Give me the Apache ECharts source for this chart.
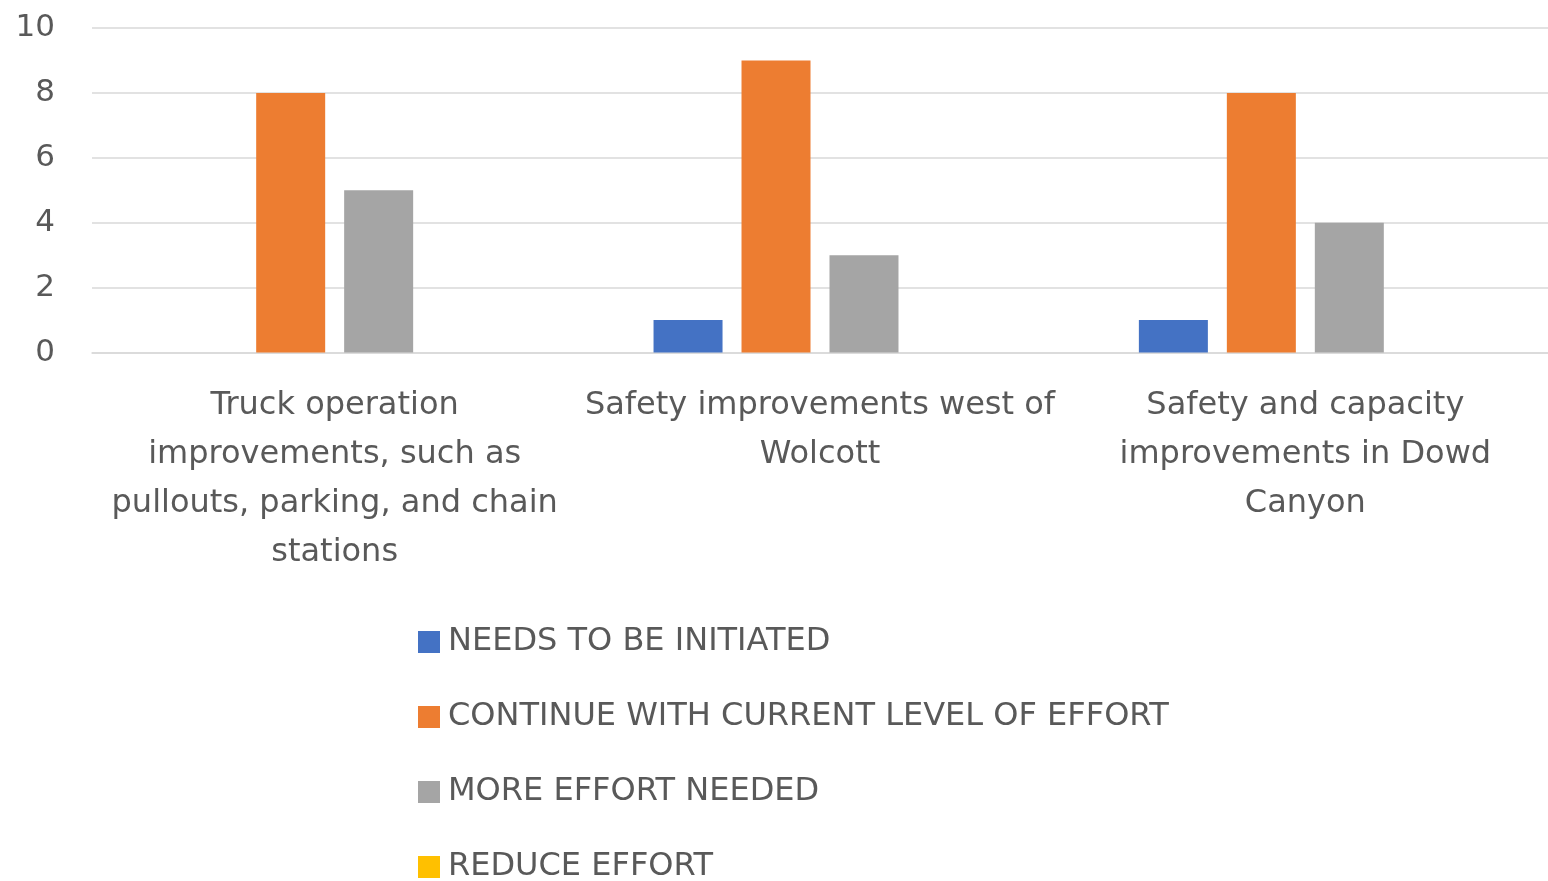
<!DOCTYPE html>
<html>
<head>
<meta charset="utf-8">
<script src="https://cdn.jsdelivr.net/npm/echarts@6/dist/echarts.min.js"></script>
<style>
  html, body { margin: 0; padding: 0; background: #ffffff; }
  #chart { width: 1548px; height: 881px; }
</style>
</head>
<body>
<div id="chart"></div>
<script>
// Project categories (line breaks set where the labels wrap)
const categories = [
  'Truck operation\nimprovements, such as\npullouts, parking, and chain\nstations',
  'Safety improvements west of\nWolcott',
  'Safety and capacity\nimprovements in Dowd\nCanyon'
];

// Responses per category
const seriesNames = [
  'NEEDS TO BE INITIATED',
  'CONTINUE WITH CURRENT LEVEL OF EFFORT',
  'MORE EFFORT NEEDED',
  'REDUCE EFFORT'
];
const needsInitiated = [0, 1, 1];
const continueCurrent = [8, 9, 8];
const moreEffort = [5, 3, 4];
const reduceEffort = [0, 0, 0];

const seriesColors = ['#4472C4', '#ED7D31', '#A5A5A5', '#FFC000'];
const seriesValues = [needsInitiated, continueCurrent, moreEffort, reduceEffort];

const FONT = '"DejaVu Sans", "Liberation Sans", sans-serif';
const TEXT_COLOR = '#595959';

const chart = echarts.init(document.getElementById('chart'), null, { renderer: 'canvas' });

chart.setOption({
  animation: false,
  backgroundColor: '#ffffff',
  color: seriesColors,
  grid: { left: 92, right: 0, top: 28, bottom: 528.5, containLabel: false },
  legend: {
    orient: 'vertical',
    left: 418,
    top: 626,
    height: 320,
    padding: 0,
    itemWidth: 22,
    itemHeight: 22,
    itemGap: 43,
    icon: 'rect',
    data: seriesNames,
    textStyle: { fontFamily: FONT, fontSize: 32, lineHeight: 32, color: TEXT_COLOR, padding: [0, 0, 0, 3] }
  },
  xAxis: {
    type: 'category',
    data: categories,
    axisLine: { show: true, lineStyle: { color: '#d9d9d9', width: 1.5 } },
    axisTick: { show: false },
    axisLabel: {
      interval: 0,
      margin: 29,
      fontFamily: FONT,
      fontSize: 32,
      lineHeight: 49,
      color: TEXT_COLOR,
      align: 'center'
    }
  },
  yAxis: {
    type: 'value',
    min: 0,
    max: 10,
    interval: 2,
    axisLine: { show: false },
    axisTick: { show: false },
    splitLine: { lineStyle: { color: '#d9d9d9', width: 1.5 } },
    axisLabel: { margin: 37, fontFamily: FONT, fontSize: 31, color: TEXT_COLOR }
  },
  series: seriesNames.map((name, i) => ({
    name: name,
    type: 'bar',
    data: seriesValues[i],
    barWidth: 69,
    barGap: '27.5%',
    itemStyle: { color: seriesColors[i] }
  }))
});
</script>
</body>
</html>
